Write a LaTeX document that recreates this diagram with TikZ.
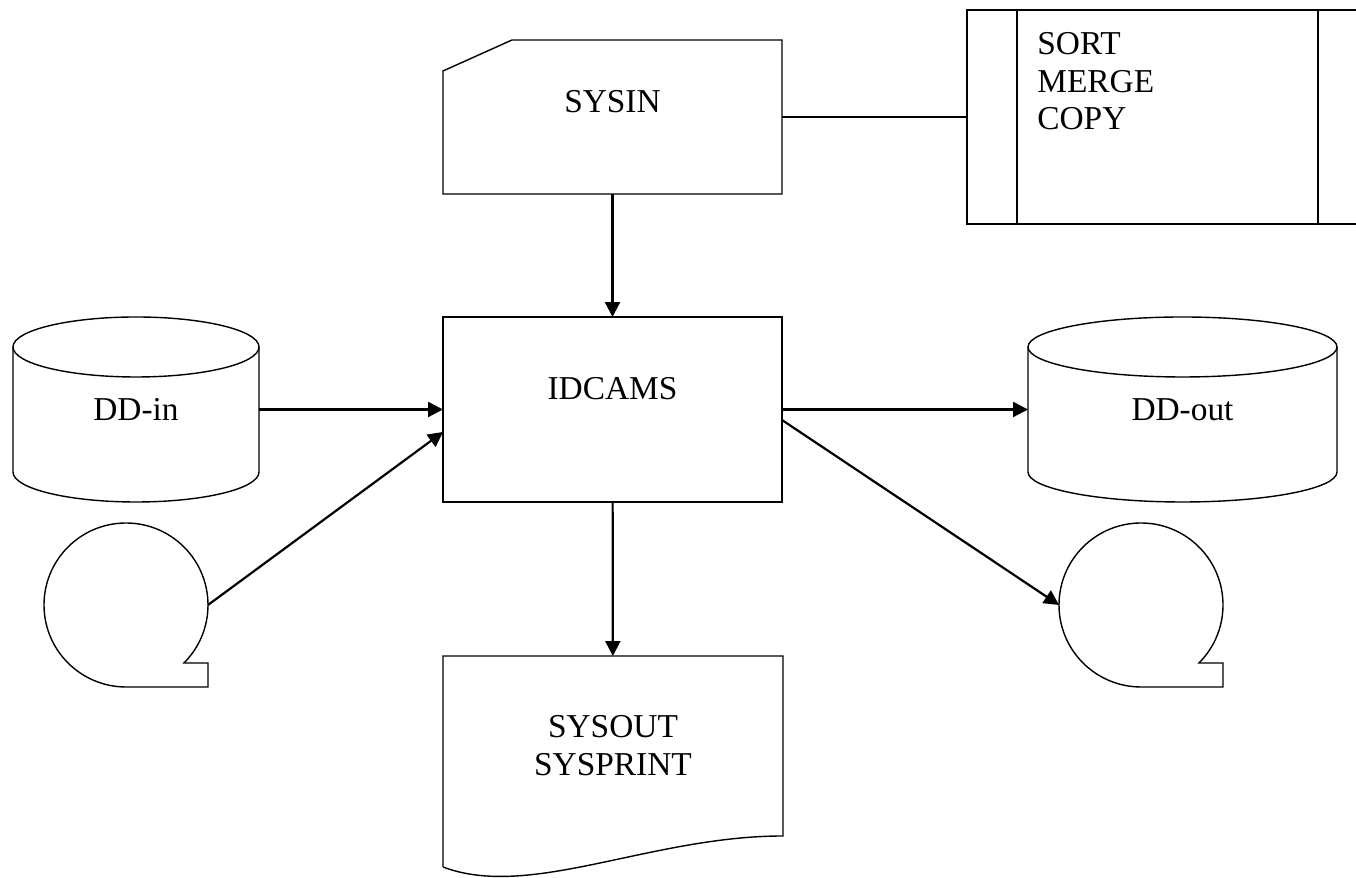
\documentclass[tikz,border=0pt]{standalone}
\usepackage{fontspec}
\setmainfont{Liberation Serif}
\usetikzlibrary{positioning, arrows.meta}

\begin{document}
\begin{tikzpicture}[
    x=0.02cm, y=0.02cm,
    lbl/.style={inner sep=0pt, align=center, font=\fontsize{19}{21.5}\selectfont},
    shp/.style={draw, line width=0.8pt},
    hold/.style={inner sep=0pt, outer sep=0pt},
    arr/.style={-{Triangle[length=8.5pt, width=8.5pt]}, line width=1.25pt},
    link/.style={line width=0.8pt}]
    \clip (0,0) rectangle (1356,878);
    % card for the control statements
    \draw[shp] (443,807) -- (512,838) -- (782,838) -- (782,684) -- (443,684) -- cycle;
    \node[hold, minimum width=6.78cm, minimum height=3.08cm] (sysin) at (612.5,761) {};
    \node[lbl, below=1cm of sysin.north] (sysintxt) {SYSIN};
    % predefined process
    \node[shp, hold, minimum width=8.02cm, minimum height=4.28cm] (sortbox) at (1167.5,761) {};
    \draw[shp] (1017,868) -- (1017,654);
    \draw[shp] (1318,868) -- (1318,654);
    \node[lbl, align=left, anchor=north west] (sorttxt) at (1037,846) {SORT\\MERGE\\COPY};
    % utility
    \node[shp, hold, minimum width=6.78cm, minimum height=3.7cm] (idcams) at (612.5,468.5) {};
    \node[lbl, below=1.2cm of idcams.north] (idcamstxt) {IDCAMS};
    % disks
    \draw[shp] (136,531) ellipse [x radius=123, y radius=30];
    \draw[shp] (13,531) -- (13,406) arc[start angle=180, end angle=360, x radius=123, y radius=30] -- (259,531);
    \node[hold, lbl, minimum width=4.92cm, minimum height=3.7cm] (ddin) at (136,468.5) {DD-in};
    \draw[shp] (1182.5,531) ellipse [x radius=154.5, y radius=30];
    \draw[shp] (1028,531) -- (1028,406) arc[start angle=180, end angle=360, x radius=154.5, y radius=30] -- (1337,531);
    \node[hold, lbl, minimum width=6.18cm, minimum height=3.7cm] (ddout) at (1182.5,468.5) {DD-out};
    % tapes
    \draw[shp] (126,273) ++(-45:82) arc[start angle=-45, end angle=270, radius=82] -- (208,191) -- (208,215) -- cycle;
    \node[hold, circle, minimum size=3.28cm] (tapein) at (126,273) {};
    \draw[shp] (1141,273) ++(-45:82) arc[start angle=-45, end angle=270, radius=82] -- (1223,191) -- (1223,215) -- cycle;
    \node[hold, circle, minimum size=3.28cm] (tapeout) at (1141,273) {};
    % listing
    \draw[shp] (443,11) -- (443,222) -- (783,222) -- (783,42) .. controls (650,42) and (530,-22) .. (443,11);
    \node[hold, minimum width=6.8cm, minimum height=4.2cm] (sysout) at (613,117) {};
    \node[lbl, below=1.18cm of sysout.north] (sysouttxt) {SYSOUT\\SYSPRINT};
    \draw[link] (sysin) -- (sortbox);
    \draw[arr] (sysin) -- (idcams);
    \draw[arr] (ddin) -- (idcams);
    \draw[arr] (tapein.east) -- ([yshift=-0.45cm]idcams.west);
    \draw[arr] (idcams) -- (ddout);
    \draw[arr] ([yshift=-0.21cm]idcams.east) -- (tapeout.west);
    \draw[arr] (idcams) -- (sysout);
\end{tikzpicture}
\end{document}
